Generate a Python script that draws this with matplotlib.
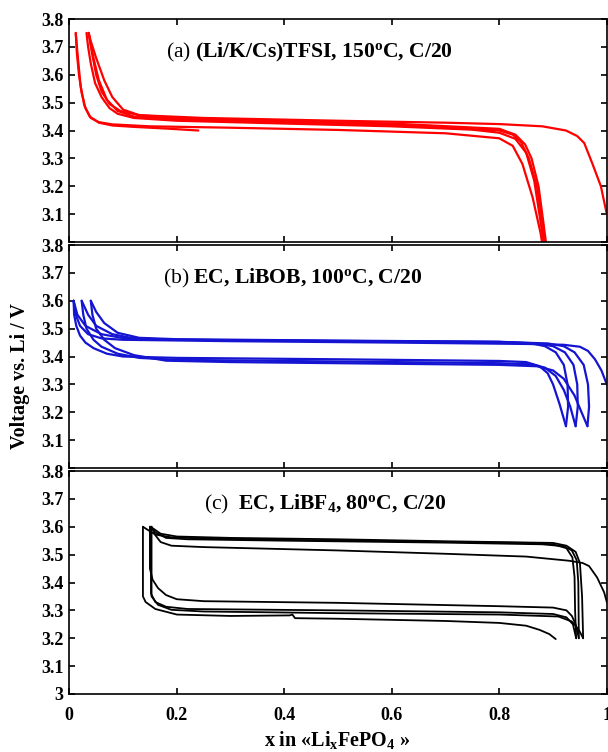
import matplotlib
matplotlib.use("Agg")
import matplotlib.pyplot as plt

# ---- data ----
# (a) red, (Li/K/Cs)TFSI 150C
red_d1_x = [0.012, 0.014, 0.018, 0.023, 0.030, 0.040, 0.055, 0.080, 0.15, 0.30, 0.50, 0.70, 0.80, 0.825, 0.843, 0.862, 0.877, 0.881]
red_d1_y = [3.75, 3.68, 3.60, 3.535, 3.48, 3.445, 3.43, 3.422, 3.415, 3.41, 3.402, 3.39, 3.372, 3.345, 3.28, 3.16, 3.03, 2.98]
red_s_x = [0.012, 0.016, 0.021, 0.028, 0.038, 0.055, 0.080, 0.12, 0.18, 0.24]
red_s_y = [3.75, 3.66, 3.56, 3.49, 3.45, 3.428, 3.418, 3.413, 3.407, 3.40]
red_d2_x = [0.032, 0.035, 0.040, 0.048, 0.060, 0.075, 0.090, 0.12, 0.20, 0.40, 0.60, 0.75, 0.80, 0.83, 0.85, 0.865, 0.877, 0.884]
red_d2_y = [3.75, 3.70, 3.64, 3.57, 3.52, 3.48, 3.46, 3.445, 3.435, 3.425, 3.415, 3.403, 3.392, 3.37, 3.32, 3.22, 3.07, 2.98]
red_c1_x = [0.886, 0.880, 0.870, 0.855, 0.840, 0.825, 0.80, 0.60, 0.40, 0.20, 0.12, 0.09, 0.07, 0.055, 0.045, 0.036]
red_c1_y = [2.98, 3.07, 3.20, 3.30, 3.36, 3.385, 3.40, 3.42, 3.43, 3.44, 3.45, 3.47, 3.51, 3.58, 3.66, 3.75]
red_c2_x = [0.888, 0.882, 0.873, 0.860, 0.848, 0.830, 0.80, 0.60, 0.40, 0.20, 0.13, 0.10, 0.08, 0.065, 0.050, 0.040, 0.036]
red_c2_y = [2.98, 3.07, 3.20, 3.30, 3.35, 3.385, 3.406, 3.425, 3.435, 3.445, 3.455, 3.475, 3.52, 3.58, 3.66, 3.72, 3.75]
red_l_x = [0.036, 0.042, 0.050, 0.060, 0.075, 0.095, 0.13, 0.25, 0.50, 0.70, 0.80, 0.88, 0.924, 0.945, 0.958, 0.973, 0.989, 1.0]
red_l_y = [3.75, 3.68, 3.60, 3.54, 3.495, 3.47, 3.455, 3.445, 3.435, 3.428, 3.423, 3.415, 3.40, 3.38, 3.355, 3.282, 3.20, 3.10]

# (b) blue, EC LiBOB 100C
blue_d1_x = [0.008, 0.009, 0.013, 0.020, 0.030, 0.045, 0.07, 0.10, 0.20, 0.50, 0.80, 0.85, 0.875, 0.89, 0.90, 0.912, 0.924]
blue_d1_y = [3.60, 3.55, 3.51, 3.475, 3.45, 3.43, 3.41, 3.40, 3.395, 3.39, 3.384, 3.38, 3.365, 3.34, 3.30, 3.23, 3.15]
blue_d2_x = [0.023, 0.026, 0.032, 0.045, 0.06, 0.09, 0.13, 0.20, 0.50, 0.80, 0.86, 0.885, 0.905, 0.92, 0.932, 0.942]
blue_d2_y = [3.60, 3.55, 3.50, 3.46, 3.435, 3.41, 3.395, 3.388, 3.382, 3.376, 3.372, 3.36, 3.33, 3.28, 3.22, 3.15]
blue_d3_x = [0.040, 0.043, 0.050, 0.065, 0.085, 0.12, 0.18, 0.30, 0.50, 0.80, 0.87, 0.90, 0.92, 0.94, 0.953, 0.964]
blue_d3_y = [3.60, 3.55, 3.50, 3.46, 3.43, 3.405, 3.385, 3.38, 3.376, 3.37, 3.365, 3.35, 3.32, 3.26, 3.20, 3.15]
blue_c1_x = [0.924, 0.928, 0.927, 0.920, 0.905, 0.885, 0.86, 0.80, 0.50, 0.20, 0.12, 0.08, 0.05, 0.035, 0.023]
blue_c1_y = [3.15, 3.22, 3.30, 3.37, 3.415, 3.437, 3.447, 3.452, 3.455, 3.46, 3.465, 3.48, 3.51, 3.55, 3.60]
blue_c2_x = [0.942, 0.946, 0.945, 0.938, 0.922, 0.90, 0.87, 0.80, 0.50, 0.20, 0.13, 0.09, 0.065, 0.05, 0.040]
blue_c2_y = [3.15, 3.22, 3.30, 3.37, 3.415, 3.437, 3.447, 3.453, 3.457, 3.462, 3.467, 3.485, 3.52, 3.56, 3.60]
blue_c3_x = [0.964, 0.967, 0.965, 0.957, 0.94, 0.92, 0.89, 0.80, 0.50, 0.20, 0.10, 0.06, 0.03, 0.015, 0.008]
blue_c3_y = [3.15, 3.22, 3.30, 3.37, 3.415, 3.437, 3.447, 3.452, 3.456, 3.46, 3.466, 3.48, 3.51, 3.55, 3.60]
blue_l_x = [0.008, 0.012, 0.020, 0.035, 0.06, 0.10, 0.30, 0.60, 0.85, 0.92, 0.95, 0.965, 0.978, 0.99, 1.0]
blue_l_y = [3.60, 3.55, 3.51, 3.48, 3.465, 3.46, 3.455, 3.45, 3.445, 3.442, 3.435, 3.42, 3.39, 3.35, 3.30]

# (c) black, EC LiBF4 80C
black_d1_x = [0.137, 0.137, 0.142, 0.16, 0.20, 0.30, 0.41, 0.415, 0.42, 0.50, 0.70, 0.80, 0.85, 0.875, 0.893, 0.905]
black_d1_y = [3.60, 3.35, 3.33, 3.305, 3.285, 3.28, 3.282, 3.285, 3.272, 3.27, 3.262, 3.255, 3.245, 3.23, 3.215, 3.197]
black_d2_x = [0.150, 0.150, 0.155, 0.165, 0.18, 0.20, 0.25, 0.50, 0.80, 0.90, 0.925, 0.935, 0.942, 0.948]
black_d2_y = [3.60, 3.45, 3.41, 3.38, 3.355, 3.34, 3.333, 3.327, 3.315, 3.31, 3.30, 3.28, 3.25, 3.20]
black_d3_x = [0.152, 0.152, 0.16, 0.18, 0.22, 0.50, 0.80, 0.90, 0.925, 0.937, 0.943]
black_d3_y = [3.60, 3.36, 3.33, 3.313, 3.305, 3.30, 3.293, 3.287, 3.275, 3.25, 3.20]
black_d4_x = [0.153, 0.153, 0.165, 0.19, 0.25, 0.50, 0.80, 0.91, 0.935, 0.948, 0.956]
black_d4_y = [3.60, 3.35, 3.32, 3.302, 3.296, 3.29, 3.285, 3.278, 3.26, 3.23, 3.20]
black_c1_x = [0.943, 0.941, 0.940, 0.936, 0.925, 0.90, 0.85, 0.60, 0.40, 0.25, 0.19, 0.16, 0.145, 0.137]
black_c1_y = [3.20, 3.30, 3.42, 3.49, 3.523, 3.537, 3.542, 3.548, 3.553, 3.558, 3.562, 3.572, 3.59, 3.60]
black_c2_x = [0.956, 0.954, 0.950, 0.942, 0.925, 0.90, 0.70, 0.50, 0.30, 0.20, 0.17, 0.155, 0.150]
black_c2_y = [3.20, 3.35, 3.47, 3.51, 3.532, 3.542, 3.548, 3.555, 3.56, 3.565, 3.575, 3.595, 3.60]
black_c3_x = [0.948, 0.947, 0.944, 0.935, 0.92, 0.88, 0.70, 0.40, 0.22, 0.18, 0.16, 0.152]
black_c3_y = [3.20, 3.40, 3.48, 3.515, 3.53, 3.537, 3.543, 3.55, 3.555, 3.56, 3.58, 3.60]
black_l_x = [0.153, 0.16, 0.17, 0.19, 0.25, 0.50, 0.70, 0.85, 0.93, 0.955, 0.967, 0.982, 0.995, 1.0]
black_l_y = [3.60, 3.57, 3.545, 3.532, 3.527, 3.515, 3.503, 3.493, 3.478, 3.47, 3.459, 3.418, 3.365, 3.33]

xticks = [0, 0.2, 0.4, 0.6, 0.8, 1.0]
xticklabels = ["0", "0.2", "0.4", "0.6", "0.8", "1"]
yticks = [3.0, 3.1, 3.2, 3.3, 3.4, 3.5, 3.6, 3.7, 3.8]
yticklabels_ab = ["", "3.1", "3.2", "3.3", "3.4", "3.5", "3.6", "3.7", "3.8"]
yticklabels_c = ["3", "3.1", "3.2", "3.3", "3.4", "3.5", "3.6", "3.7", "3.8"]

panels = [
    dict(color="#ff0000", lw=1.6,
         curves=[(red_d1_x, red_d1_y), (red_s_x, red_s_y), (red_d2_x, red_d2_y),
                 (red_c1_x, red_c1_y), (red_c2_x, red_c2_y), (red_l_x, red_l_y)],
         label=r"$\mathrm{(a)}\ \mathbf{(Li/K/Cs)TFSI{,}\ 150^{o}C{,}\ C/20}$", lx=0.447),
    dict(color="#1414d2", lw=1.6,
         curves=[(blue_d1_x, blue_d1_y), (blue_d2_x, blue_d2_y), (blue_d3_x, blue_d3_y),
                 (blue_c1_x, blue_c1_y), (blue_c2_x, blue_c2_y), (blue_c3_x, blue_c3_y),
                 (blue_l_x, blue_l_y)],
         label=r"$\mathrm{(b)}\ \mathbf{EC{,}\ LiBOB{,}\ 100^{o}C{,}\ C/20}$", lx=0.415),
    dict(color="black", lw=1.3,
         curves=[(black_d1_x, black_d1_y), (black_d2_x, black_d2_y), (black_d3_x, black_d3_y),
                 (black_d4_x, black_d4_y), (black_c1_x, black_c1_y), (black_c2_x, black_c2_y),
                 (black_c3_x, black_c3_y), (black_l_x, black_l_y)],
         label=r"$\mathrm{(c)}\ \ \mathbf{EC{,}\ LiBF_{4}{,}\ 80^{o}C{,}\ C/20}$", lx=0.477),
]

plt.rcParams['font.family'] = ['Liberation Serif', 'DejaVu Serif']
plt.rcParams['mathtext.fontset'] = 'custom'
plt.rcParams['mathtext.rm'] = 'Liberation Serif'
plt.rcParams['mathtext.it'] = 'Liberation Serif:italic'
plt.rcParams['mathtext.bf'] = 'Liberation Serif:bold'

fig = plt.figure(figsize=(6.08, 7.52), dpi=100)

left, width = 69.3 / 608, 537.5 / 608
h, gap = 223 / 752, 3 / 752
bottom0 = 58 / 752

for i, p in enumerate(panels):
    b = bottom0 + (2 - i) * (h + gap)
    ax = fig.add_axes([left, b, width, h])
    for xs, ys in p["curves"]:
        ax.plot(xs, ys, color=p["color"], lw=p["lw"], solid_capstyle='round')
    ax.set_xlim(0, 1)
    ax.set_ylim(3.0, 3.8)
    ax.set_xticks(xticks)
    ax.set_yticks(yticks)
    if i == 2:
        ax.set_xticklabels(xticklabels, fontsize=13, fontweight='bold')
        ax.set_yticklabels(yticklabels_c, fontsize=13, fontweight='bold')
    else:
        ax.set_xticklabels([])
        ax.set_yticklabels(yticklabels_ab, fontsize=13, fontweight='bold')
    ax.tick_params(direction='in', top=True, right=True, length=4.5, width=1.2, pad=4)
    ax.tick_params(axis='x', pad=9)
    for s in ax.spines.values():
        s.set_linewidth(1.2)
    ax.text(p["lx"], 0.85, p["label"], transform=ax.transAxes, ha='center', va='center', fontsize=15.6)

fig.text(0.033, 0.5, "Voltage vs. Li / V", rotation=90, ha='center', va='center',
         fontsize=14.5, fontweight='bold')
fig.text(0.555, 0.016, r"$\mathbf{x\ in\ «Li_{x}FePO_{4}\ »}$", ha='center', va='center', fontsize=14.5)

fig.savefig("out.png", dpi=100)
